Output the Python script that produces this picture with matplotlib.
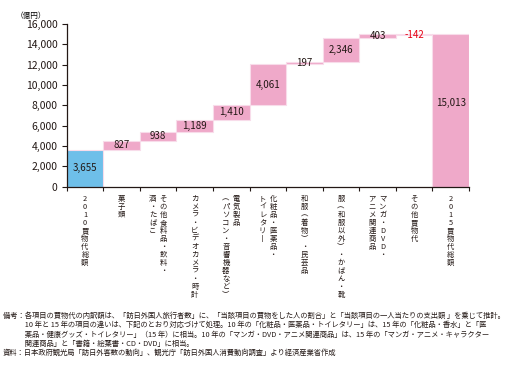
import numpy as np
import matplotlib
matplotlib.use("Agg")
import matplotlib.pyplot as plt
from matplotlib.ticker import FuncFormatter

plt.rcParams["font.family"] = ["Noto Sans CJK JP", "DejaVu Sans"]

# Data (億円)
categories = [
    ["2010買物代総額"],
    ["菓子類"],
    ["その他食料品・飲料・", "酒・たばこ"],
    ["カメラ・ビデオカメラ・時計"],
    ["電気製品", "（パソコン・音響機器など）"],
    ["化粧品・医薬品・", "トイレタリー"],
    ["和服（着物）・民芸品"],
    ["服（和服以外）・かばん・靴"],
    ["マンガ・DVD・", "アニメ関連商品"],
    ["その他買物代"],
    ["2015買物代総額"],
]
values = [3655, 827, 938, 1189, 1410, 4061, 197, 2346, 403, -142, 15013]
yticks = [0, 2000, 4000, 6000, 8000, 10000, 12000, 14000, 16000]

notes = [
    "備考：各項目の買物代の内訳額は、「訪日外国人旅行者数」に、「当該項目の買物をした人の割合」と「当該項目の一人当たりの支出額 」を乗じて推計。",
    "　　　10 年と 15 年の項目の違いは、下記のとおり対応づけて処理。10 年の「化粧品・医薬品・トイレタリー」は、15 年の「化粧品・香水」と「医",
    "　　　薬品・健康グッズ・トイレタリー」（15 年）に相当。10 年の「マンガ・DVD・アニメ関連商品」は、15 年の「マンガ・アニメ・キャラクター",
    "　　　関連商品」と「書籍・絵葉書・CD・DVD」に相当。",
    "資料：日本政府観光局「訪日外客数の動向」、観光庁「訪日外国人消費動向調査」より経済産業省作成",
]

pink = "#efa9c9"
blue = "#6ebfe9"
pale = "#f7d5e4"
red = "#e60012"

# waterfall bottoms
n = len(values)
bottoms = []
heights = []
colors = []
running = 0
for i, v in enumerate(values):
    if i == 0 or i == n - 1:
        bottoms.append(0)
        heights.append(v)
        running = v
    else:
        if v >= 0:
            bottoms.append(running)
        else:
            bottoms.append(running + v)
        heights.append(abs(v))
        running += v
    if i == 0:
        colors.append(blue)
    elif v < 0:
        colors.append(pale)
    else:
        colors.append(pink)

fig = plt.figure(figsize=(5.15, 3.65), dpi=100)
ax = fig.add_axes([0.1295, 0.4885, 0.7812, 0.4457])

x = np.arange(n)
ax.bar(x, heights, bottom=bottoms, width=1.0, color=colors,
       edgecolor="#f8dcea", linewidth=0.8)

for i, v in enumerate(values):
    yc = bottoms[i] + heights[i] / 2
    if i == n - 1:
        yc = heights[i] * 0.55
    ax.text(i, yc, f"{v:,}", ha="center", va="center", fontsize=7,
            color=red if v < 0 else "#231815")

ax.set_xlim(-0.5, n - 0.5)
ax.set_ylim(0, 16000)
ax.set_yticks(yticks)
ax.yaxis.set_major_formatter(FuncFormatter(lambda v, p: f"{int(v):,}"))
ax.set_xticks(np.arange(-0.5, n, 1.0))
ax.set_xticklabels([])
ax.tick_params(axis="y", length=3.6, width=0.8, labelsize=7.5, pad=3,
               colors="#231815")
ax.tick_params(axis="x", length=3, width=0.8, colors="#231815")
for s in ["top", "right"]:
    ax.spines[s].set_visible(False)
for s in ["left", "bottom"]:
    ax.spines[s].set_linewidth(0.9)
    ax.spines[s].set_color("#231815")

ax.text(-0.05, 1.025, "（億円）", transform=ax.transAxes, ha="right",
        va="bottom", fontsize=5.5)

# vertical category labels
vmap = {"（": "︵", "）": "︶", "ー": "丨"}
colgap = 7.6
for i, cols in enumerate(categories):
    k = len(cols)
    for j, col in enumerate(cols):
        dx = (k - 1) / 2 * colgap - j * colgap
        txt = "\n".join(vmap.get(c, c) for c in col)
        ax.annotate(txt, xy=(i, 0), xycoords=("data", "axes fraction"),
                    xytext=(dx, -5.8), textcoords="offset points",
                    ha="center", va="top", fontsize=5.3, linespacing=1.0,
                    color="#231815")

# notes
ny = 1 - 316 / 365
for k, line in enumerate(notes):
    fig.text(3 / 515, ny - k * 9.3 / 365, line, ha="left", va="center",
             fontsize=5.25, color="#231815")

fig.savefig("out.png", dpi=100)
